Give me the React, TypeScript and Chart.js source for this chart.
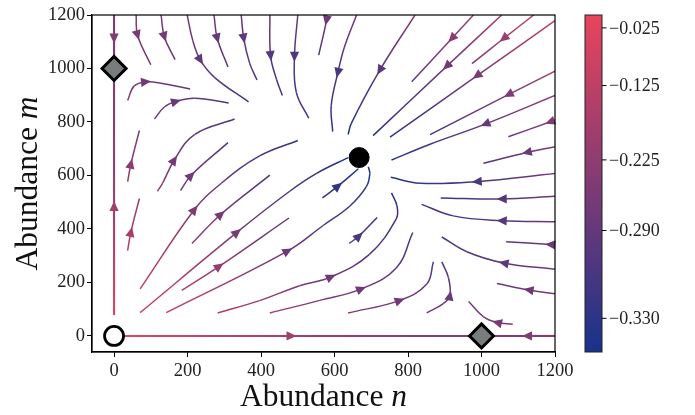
import React, { useEffect, useRef } from "react";
import { Chart, registerables } from "chart.js";
Chart.register(...registerables);

const xTicks = [0, 200, 400, 600, 800, 1000, 1200];
const yTicks = [0, 200, 400, 600, 800, 1000, 1200];
const cbTickValues = [-0.025, -0.125, -0.225, -0.29, -0.33];
const cbLabels = ["\u22120.025", "\u22120.125", "\u22120.225", "\u22120.290", "\u22120.330"];
const cbMin = -1 / 3;
const cbMax = 0;

const stableNode = [[667, 667]];
const unstableNode = [[0, 0]];
const saddles = [[0, 1000], [1000, 0]];

const axisUp = [[0, 78], [0, 486], [0, 1000]];
const axisDown = [[0, 1200], [0, 1112], [0, 1000]];
const axisRight = [[0, 0], [483, 0], [1000, 0]];
const axisLeft = [[1200, 0], [1124, 0], [1000, 0]];

const s01 = [[60, 1200], [64, 1124], [100, 1014]];
const s02 = [[128, 1200], [137, 1118], [166, 1033]];
const s03 = [[199, 1200], [214, 1106], [235, 1031], [274, 966], [366, 875]];
const s04 = [[272, 1200], [281, 1112], [310, 1006]];
const s05 = [[346, 1200], [353, 1112], [369, 1020], [389, 957]];
const s06 = [[424, 1200], [426, 1047], [442, 960], [458, 899]];
const s07 = [[500, 1200], [491, 1044], [496, 911], [530, 814]];
const s08 = [[578, 1200], [578, 1179], [557, 1050]];
const s09 = [[660, 1200], [627, 1080], [609, 984], [591, 861], [595, 764]];
const s10 = [[819, 1200], [723, 993], [646, 796], [637, 753]];
const s11 = [[978, 1200], [919, 1112], [810, 950]];
const s12 = [[1055, 1200], [905, 1008], [705, 749]];
const s13 = [[1142, 1200], [1060, 1112], [974, 1018]];
const s14 = [[1200, 1179], [987, 972], [751, 743]];
const s15 = [[1200, 990], [1073, 902], [860, 753]];
const s16 = [[1200, 899], [1010, 792], [860, 717], [755, 658]];
const s17 = [[1200, 808], [1186, 800], [1073, 745]];
const s18 = [[1200, 707], [1123, 686], [1005, 646]];
const s19 = [[1200, 607], [987, 577], [833, 571], [753, 593]];
const s20 = [[1200, 522], [1055, 512], [889, 516]];
const s21 = [[1200, 427], [1055, 431], [923, 449], [837, 492]];
const s22 = [[1200, 340], [1187, 342], [1067, 352]];
const s23 = [[1200, 249], [1060, 273], [960, 315], [892, 370]];
const s24 = [[1200, 158], [1128, 172], [1042, 196]];
const s25 = [[1085, 44], [1042, 50], [1005, 72], [965, 129]];
const s26 = [[851, 86], [896, 121], [914, 151], [910, 218], [892, 277]];
const s27 = [[637, 86], [778, 133], [851, 194], [869, 277]];
const s28 = [[424, 86], [560, 133], [673, 176], [768, 254], [813, 387]];
const s29 = [[282, 86], [396, 132], [505, 188], [591, 221], [695, 305], [768, 438], [770, 486], [755, 535]];
const s30 = [[142, 87], [473, 318], [569, 413], [642, 486], [687, 559], [696, 607], [692, 632]];
const s31 = [[71, 87], [335, 388], [478, 541], [550, 607], [637, 667]];
const s32 = [[184, 170], [287, 261], [476, 441]];
const s33 = [[71, 176], [219, 473], [292, 571], [396, 673], [500, 731]];
const s34 = [[212, 346], [291, 455], [424, 601]];
const s35 = [[181, 544], [210, 601], [310, 723]];
const s36 = [[118, 541], [132, 571], [164, 658], [219, 753], [328, 811]];
const s37 = [[37, 319], [46, 389], [69, 514]];
const s38 = [[37, 577], [46, 644], [69, 768]];
const s39 = [[110, 811], [137, 856], [169, 877], [219, 889], [312, 871]];
const s40 = [[37, 881], [55, 935], [87, 950], [128, 945], [207, 923]];
const s41 = [[567, 516], [610, 561], [665, 625]];
const s42 = [[640, 346], [667, 374], [716, 443]];

const axisLines = [axisUp, axisDown, axisRight, axisLeft];
const axisArrows = [1, 1, 1, 1];
const streams = [s01, s02, s03, s04, s05, s06, s07, s08, s09, s10, s11, s12, s13, s14, s15, s16, s17, s18, s19, s20,
  s21, s22, s23, s24, s25, s26, s27, s28, s29, s30, s31, s32, s33, s34, s35, s36, s37, s38, s39, s40, s41, s42];
const streamArrows = [1, 1, 2, 1, 1, 1, 1, 1, 2, 1, 1, 1, 1, 1, 1, 1, 1, 1, 1, 1,
  1, 1, 1, 1, 1, 2, 1, 2, 3, 1, 1, 1, 1, 1, 1, 2, 1, 1, 2, 2, 1, 1];

const cLow = [24, 50, 140];
const cHigh = [233, 68, 92];

function cmap(t: number): string {
  t = Math.max(0, Math.min(1, t));
  const c = cLow.map((v, k) => Math.round(v + (cHigh[k] - v) * t));
  return `rgb(${c[0]},${c[1]},${c[2]})`;
}

// power-law (gamma 0.5) colour normalisation, as on the colour bar
function norm(v: number): number {
  return Math.sqrt(Math.max(0, Math.min(1, (v - cbMin) / (cbMax - cbMin))));
}

// colour level of a point (style only): the competition potential
function colorAt(n: number, m: number): string {
  const x = n / 1000, y = m / 1000;
  const v = -(x + y) / 2 + (x * x + x * y + y * y) / 4;
  return cmap(norm(v));
}

const SERIF = '"Liberation Serif", "DejaVu Serif", serif';

export default function App() {
  const ref = useRef<HTMLCanvasElement | null>(null);

  useEffect(() => {
    const canvas = ref.current!;
    const g2d = canvas.getContext("2d")!;

    const lines: { pts: number[][]; arrow: number; width: number }[] = [];
    axisLines.forEach((p, i) => lines.push({ pts: p, arrow: axisArrows[i], width: 2.1 }));
    streams.forEach((p, i) => lines.push({ pts: p, arrow: streamArrows[i], width: 1.5 }));

    const markerSets: any[] = [
      {
        data: stableNode.map(([x, y]) => ({ x, y })),
        pointStyle: "circle",
        pointRadius: 10,
        backgroundColor: "#000",
        borderColor: "#000",
        borderWidth: 1,
        showLine: false,
        order: -3,
      },
      {
        data: unstableNode.map(([x, y]) => ({ x, y })),
        pointStyle: "circle",
        pointRadius: 9.5,
        backgroundColor: "#fff",
        borderColor: "#000",
        borderWidth: 2.8,
        showLine: false,
        order: -2,
      },
      {
        data: saddles.map(([x, y]) => ({ x, y })),
        pointStyle: "rectRot",
        pointRadius: 12,
        backgroundColor: "#787c7d",
        borderColor: "#000",
        borderWidth: 3,
        showLine: false,
        order: -1,
      },
    ];

    const lineSets = lines.map((ln) => ({
      data: ln.pts.map(([x, y]) => ({ x, y })),
      showLine: true,
      pointRadius: 0,
      borderWidth: ln.width,
      borderColor: colorAt(ln.pts[0][0], ln.pts[0][1]),
      tension: 0.4,
      fill: false,
      order: 0,
      segment: {
        borderColor: (sc: any) => {
          const a = ln.pts[sc.p0DataIndex];
          const b = ln.pts[sc.p1DataIndex];
          if (!a || !b) return undefined;
          if (Math.abs(sc.p0.x - sc.p1.x) < 0.01 && Math.abs(sc.p0.y - sc.p1.y) < 0.01) return colorAt(a[0], a[1]);
          const g = g2d.createLinearGradient(sc.p0.x, sc.p0.y, sc.p1.x, sc.p1.y);
          g.addColorStop(0, colorAt(a[0], a[1]));
          g.addColorStop(1, colorAt(b[0], b[1]));
          return g;
        },
      },
    }));

    const nMarkers = markerSets.length;

    const arrowPlugin = {
      id: "arrows",
      afterDatasetDraw(chart: any, args: any) {
        const idx = args.index - nMarkers;
        if (idx < 0 || idx >= lines.length) return;
        const ln = lines[idx];
        const k = ln.arrow;
        const xs = chart.scales.x, ys = chart.scales.y;
        const px = (p: number[]) => [xs.getPixelForValue(p[0]), ys.getPixelForValue(p[1])];
        const p = px(ln.pts[k]);
        const a = px(ln.pts[Math.max(0, k - 1)]);
        const b = px(ln.pts[Math.min(ln.pts.length - 1, k + 1)]);
        let dx = b[0] - a[0], dy = b[1] - a[1];
        const L = Math.hypot(dx, dy) || 1;
        dx /= L; dy /= L;
        const len = 10, hw = 4.6;
        const tip = [p[0] + dx * len * 0.5, p[1] + dy * len * 0.5];
        const base = [p[0] - dx * len * 0.5, p[1] - dy * len * 0.5];
        const ctx = chart.ctx;
        ctx.save();
        ctx.beginPath();
        ctx.moveTo(tip[0], tip[1]);
        ctx.lineTo(base[0] - dy * hw, base[1] + dx * hw);
        ctx.lineTo(base[0] + dy * hw, base[1] - dx * hw);
        ctx.closePath();
        ctx.fillStyle = colorAt(ln.pts[k][0], ln.pts[k][1]);
        ctx.fill();
        ctx.restore();
      },
    };

    const decoPlugin = {
      id: "deco",
      afterDraw(chart: any) {
        const ctx = chart.ctx;
        const { left, right, top, bottom } = chart.chartArea;
        ctx.save();
        ctx.strokeStyle = "#000";
        ctx.lineWidth = 1.2;
        ctx.strokeRect(left, top, right - left, bottom - top);

        // axis titles
        ctx.fillStyle = "#111";
        ctx.textBaseline = "alphabetic";
        const fs = 31.5;
        const plain = "Abundance ";
        ctx.font = `${fs}px ${SERIF}`;
        const w1 = ctx.measureText(plain).width;
        ctx.font = `italic ${fs}px ${SERIF}`;
        const w2 = ctx.measureText("n").width;
        const wm = ctx.measureText("m").width;
        const cx = (left + right) / 2;
        let x0 = cx - (w1 + w2) / 2;
        ctx.textAlign = "left";
        ctx.font = `${fs}px ${SERIF}`;
        ctx.fillText(plain, x0, 406);
        ctx.font = `italic ${fs}px ${SERIF}`;
        ctx.fillText("n", x0 + w1, 406);

        ctx.save();
        ctx.translate(37, (top + bottom) / 2);
        ctx.rotate(-Math.PI / 2);
        x0 = -(w1 + wm) / 2;
        ctx.font = `${fs}px ${SERIF}`;
        ctx.fillText(plain, x0, 0);
        ctx.font = `italic ${fs}px ${SERIF}`;
        ctx.fillText("m", x0 + w1, 0);
        ctx.restore();

        // colorbar
        const cbL = 585, cbR = 602, cbT = top, cbB = bottom;
        const grad = ctx.createLinearGradient(0, cbB, 0, cbT);
        grad.addColorStop(0, cmap(0));
        grad.addColorStop(1, cmap(1));
        ctx.fillStyle = grad;
        ctx.fillRect(cbL, cbT, cbR - cbL, cbB - cbT);
        ctx.strokeStyle = "#222";
        ctx.lineWidth = 1;
        ctx.strokeRect(cbL, cbT, cbR - cbL, cbB - cbT);
        ctx.font = `18px ${SERIF}`;
        ctx.fillStyle = "#222";
        ctx.textAlign = "left";
        ctx.textBaseline = "middle";
        cbTickValues.forEach((val, i) => {
          const y = cbB - norm(val) * (cbB - cbT);
          ctx.beginPath();
          ctx.moveTo(cbR, y);
          ctx.lineTo(cbR + 4.5, y);
          ctx.strokeStyle = "#000";
          ctx.stroke();
          ctx.fillText(cbLabels[i], cbR + 7, y + 1);
        });
        ctx.restore();
      },
    };

    const chart = new Chart(canvas, {
      type: "scatter",
      data: { datasets: [...markerSets, ...lineSets] as any },
      options: {
        animation: false,
        responsive: false,
        devicePixelRatio: 1,
        events: [],
        layout: { padding: { top: 7, right: 140, left: 0, bottom: 0 } },
        plugins: { legend: { display: false }, tooltip: { enabled: false } },
        scales: {
          x: {
            type: "linear",
            min: -60,
            max: 1200,
            afterBuildTicks: (s: any) => {
              s.ticks = xTicks.map((v) => ({ value: v }));
            },
            afterFit: (s: any) => {
              s.height = 63;
              s.paddingLeft = 0;
              s.paddingRight = 0;
            },
            grid: { drawOnChartArea: false, drawTicks: true, tickLength: 5, tickColor: "#000", tickWidth: 1 },
            border: { display: true, color: "#000", width: 1.2 },
            ticks: {
              font: { family: SERIF, size: 18.5 },
              color: "#222",
              padding: 3,
              maxRotation: 0,
              callback: (v: any) => String(v),
            },
          },
          y: {
            type: "linear",
            min: -60,
            max: 1200,
            afterBuildTicks: (s: any) => {
              s.ticks = yTicks.map((v) => ({ value: v }));
            },
            afterFit: (s: any) => {
              s.width = 92;
              s.paddingTop = 0;
              s.paddingBottom = 0;
            },
            grid: { drawOnChartArea: false, drawTicks: true, tickLength: 5, tickColor: "#000", tickWidth: 1 },
            border: { display: true, color: "#000", width: 1.2 },
            ticks: {
              font: { family: SERIF, size: 18.5 },
              color: "#222",
              padding: 2,
              callback: (v: any) => String(v),
            },
          },
        },
      },
      plugins: [arrowPlugin, decoPlugin],
    } as any);

    return () => chart.destroy();
  }, []);

  return (
    <div style={{ position: "fixed", left: 0, top: 0, width: 695, height: 415, background: "#fff" }}>
      <canvas ref={ref} width={695} height={415} style={{ width: 695, height: 415, display: "block" }} />
    </div>
  );
}
